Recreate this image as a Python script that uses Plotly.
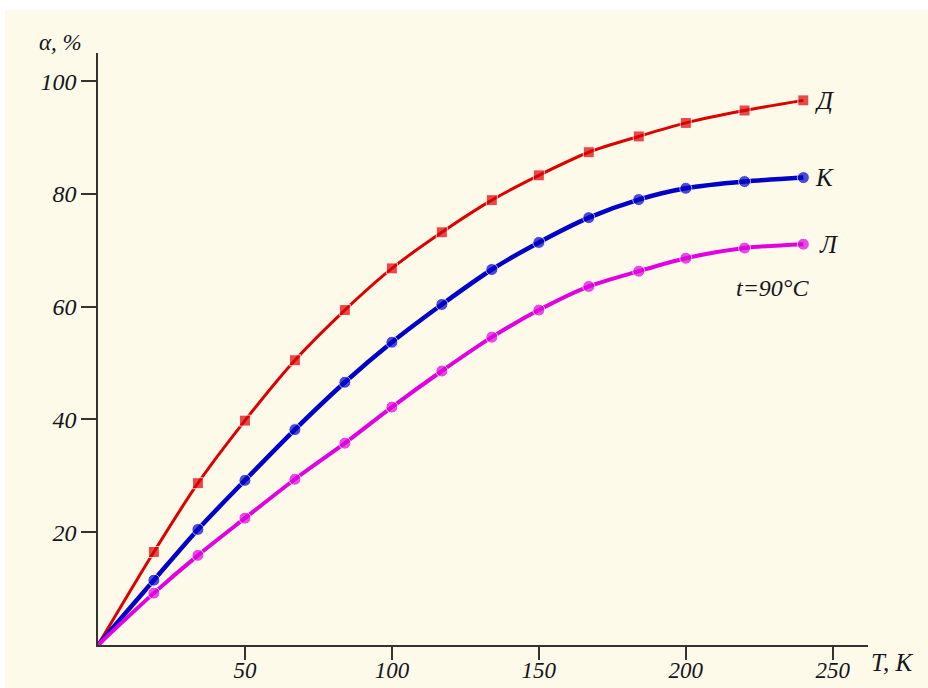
import plotly.graph_objects as go

# Time points, K
T = [0, 19, 34, 50, 67, 84, 100, 117, 134, 150, 167, 184, 200, 220, 240]

# Degree of extraction, %, for the three samples
alpha_D = [0, 16.5, 28.7, 39.8, 50.5, 59.4, 66.8, 73.2, 78.9, 83.3, 87.4, 90.2, 92.6, 94.8, 96.6]
alpha_K = [0, 11.5, 20.5, 29.2, 38.2, 46.6, 53.7, 60.4, 66.6, 71.4, 75.8, 79.0, 81.0, 82.2, 82.9]
alpha_L = [0, 9.2, 15.9, 22.5, 29.4, 35.8, 42.2, 48.6, 54.6, 59.4, 63.6, 66.3, 68.6, 70.4, 71.1]

x_ticks = [50, 100, 150, 200, 250]
y_ticks = [20, 40, 60, 80, 100]

series = [
    ("Д", alpha_D, "#DD0000", 3, "square", 11),
    ("К", alpha_K, "#0000C8", 4.5, "circle", 12),
    ("Л", alpha_L, "#E000E0", 4, "circle", 12),
]

FONT = "Liberation Serif"
TXT = "#15151c"

fig = go.Figure()
for name, ys, color, lw, sym, ms in series:
    sizes = [0] + [ms] * (len(T) - 1)
    fig.add_trace(go.Scatter(
        x=T, y=ys, mode="lines+markers", name=name,
        line=dict(color=color, width=lw, shape="spline", smoothing=0.8),
        marker=dict(color=color, size=sizes, symbol=sym),
        showlegend=False,
    ))

# curve labels next to the last points
for name, ys, color, lw, sym, ms in series:
    fig.add_annotation(
        x=T[-1], y=ys[-1], text=name, showarrow=False,
        xanchor="left", yanchor="middle", xshift=10 if name != "Л" else 14,
        font=dict(family=FONT, size=25, color=TXT, style="italic"),
    )

fig.add_annotation(
    x=229.5, y=63.4, text="t=90°C", showarrow=False, xanchor="center", yanchor="middle",
    font=dict(family=FONT, size=24, color=TXT, style="italic"),
)

# axis titles placed at the axis ends
fig.add_annotation(
    xref="paper", yref="paper", x=-61 / 770, y=1.0, text="α, %", showarrow=False,
    xanchor="left", yanchor="bottom", yshift=-4,
    font=dict(family=FONT, size=23, color=TXT, style="italic"),
)
fig.add_annotation(
    xref="paper", yref="paper", x=1.0, y=0.0, text="T, K", showarrow=False,
    xanchor="left", yanchor="top", xshift=1, yshift=-2,
    font=dict(family=FONT, size=25, color=TXT, style="italic"),
)

# cream sheet behind the chart
fig.add_shape(
    type="rect", xref="paper", yref="paper", layer="below",
    x0=-93 / 770, x1=1 + 60 / 770, y0=-43 / 592, y1=1 + 43 / 592,
    fillcolor="#FEFAEA", line=dict(width=0),
)

fig.update_layout(
    width=928, height=688,
    margin=dict(l=98, r=60, t=53, b=43),
    paper_bgcolor="white", plot_bgcolor="#FEFAEA",
    xaxis=dict(
        range=[0, 262], tickvals=x_ticks, ticktext=[str(v) for v in x_ticks],
        showgrid=False, zeroline=False, showline=True, linecolor="#333333", linewidth=1.5,
        ticks="outside", ticklen=13, tickwidth=1.5, tickcolor="#333333",
        tickfont=dict(family=FONT, size=23, color=TXT, style="italic"),
        ticklabelstandoff=-9, automargin=False,
    ),
    yaxis=dict(
        range=[0, 105], tickvals=y_ticks, ticktext=[str(v) for v in y_ticks],
        showgrid=False, zeroline=False, showline=True, linecolor="#333333", linewidth=1.5,
        ticks="outside", ticklen=15, tickwidth=1.5, tickcolor="#333333",
        tickfont=dict(family=FONT, size=24, color=TXT, style="italic"),
        automargin=False,
    ),
)

fig.write_html("out.html")
